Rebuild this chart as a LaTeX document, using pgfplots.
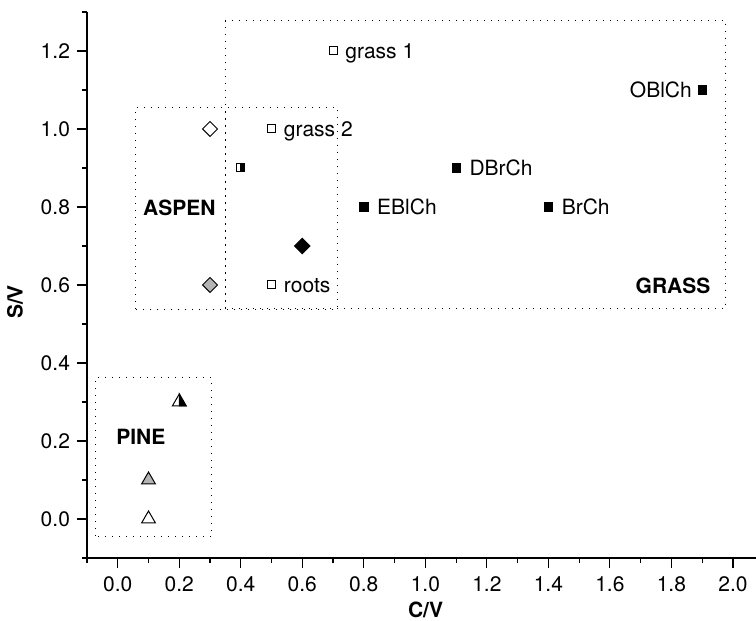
\documentclass[border=0pt]{standalone}
\usepackage{pgfplots}
\pgfplotsset{compat=1.18}
\usepackage{fontspec}
\setmainfont{TeX Gyre Heros}
\definecolor{mgray}{RGB}{180,180,180}
\pgfdeclareplotmark{halfsquare}{%
  \pgfpathrectangle{\pgfpoint{-\pgfplotmarksize}{-\pgfplotmarksize}}{\pgfpoint{2\pgfplotmarksize}{2\pgfplotmarksize}}%
  \pgfusepathqstroke
  \pgfpathrectangle{\pgfpoint{0pt}{-\pgfplotmarksize}}{\pgfpoint{\pgfplotmarksize}{2\pgfplotmarksize}}%
  \pgfusepathqfillstroke
}
\pgfdeclareplotmark{halftriangle}{%
  \pgfpathmoveto{\pgfqpointpolar{90}{\pgfplotmarksize}}%
  \pgfpathlineto{\pgfqpointpolar{-30}{\pgfplotmarksize}}%
  \pgfpathlineto{\pgfqpointpolar{210}{\pgfplotmarksize}}%
  \pgfpathclose
  \pgfusepathqstroke
  \pgfpathmoveto{\pgfqpointpolar{90}{\pgfplotmarksize}}%
  \pgfpathlineto{\pgfqpointpolar{-30}{\pgfplotmarksize}}%
  \pgfpathlineto{\pgfpoint{0pt}{-0.5\pgfplotmarksize}}%
  \pgfpathclose
  \pgfusepathqfillstroke
}
\tikzset{box/.style={line width=0.5pt, dash pattern=on 0.5pt off 3pt},
  lab/.style={font=\fontsize{10.5}{12.6}\selectfont, inner sep=0pt},
  glab/.style={font=\fontsize{10.5}{12.6}\selectfont\bfseries, inner sep=0pt}}
\begin{document}
\begin{tikzpicture}
\begin{axis}[name=ax, scale only axis, width=334.5pt, height=273pt,
  xmin=-0.1, xmax=2.075, ymin=-0.1, ymax=1.3,
  axis lines*=left, axis line style={line width=0.6pt},
  tick align=outside, tick style={black, line width=0.6pt},
  major tick length=5pt, minor tick length=2.5pt,
  xtick={0,0.2,0.4,0.6,0.8,1.0,1.2,1.4,1.6,1.8,2.0},
  ytick={0,0.2,0.4,0.6,0.8,1.0,1.2},
  minor xtick={-0.1,0.1,0.3,0.5,0.7,0.9,1.1,1.3,1.5,1.7,1.9},
  minor ytick={-0.1,0.1,0.3,0.5,0.7,0.9,1.1,1.3},
  ticklabel style={font=\fontsize{10.5}{12.6}\selectfont},
  xticklabel style={yshift=-1pt},
  /pgf/number format/.cd, fixed, fixed zerofill, precision=1, assume math mode=true,
  /pgfplots/.cd,
  xlabel={C/V}, ylabel={S/V},
  xlabel style={font=\fontsize{10.5}{12.6}\selectfont\bfseries, at={(axis description cs:0.506,-0.0989)}, anchor=center, yshift=1pt},
  ylabel style={font=\fontsize{10.5}{12.6}\selectfont\bfseries, at={(axis description cs:-0.1076,0.469)}, anchor=center},
  clip=false]
% boxes
\draw[box] (axis cs:0.35,0.541) rectangle (axis cs:1.977,1.278);
\draw[box] (axis cs:0.059,0.538) rectangle (axis cs:0.713,1.056);
\draw[box] (axis cs:0.35,0.538) -- (axis cs:0.35,1.056);
\draw[box] (axis cs:-0.072,-0.044) rectangle (axis cs:0.306,0.362);
% open squares
\addplot[only marks, mark=square, mark size=2pt, mark options={black, line width=0.5pt}] coordinates {(0.7,1.2) (0.5,1.0) (0.5,0.6)};
% filled squares
\addplot[only marks, mark=square*, mark size=2.1pt, mark options={black, fill=black}] coordinates {(0.8,0.8) (1.1,0.9) (1.4,0.8) (1.9,1.1)};
% half square
\addplot[only marks, mark=halfsquare, mark size=2pt, mark options={black, fill=black, line width=0.5pt}] coordinates {(0.4,0.9)};
% diamonds
\addplot[only marks, mark=square, mark size=2.65pt, mark options={rotate=45, black, fill=white, line width=0.5pt}] coordinates {(0.3,1.0)};
\addplot[only marks, mark=square*, mark size=2.65pt, mark options={rotate=45, black, fill=mgray, line width=0.5pt}] coordinates {(0.3,0.6)};
\addplot[only marks, mark=square*, mark size=2.7pt, mark options={rotate=45, black, fill=black, line width=0.5pt}] coordinates {(0.6,0.7)};
% triangles
\addplot[only marks, mark=triangle, mark size=4pt, mark options={black, line width=0.5pt}] coordinates {(0.1,0.0)};
\addplot[only marks, mark=triangle*, mark size=4pt, mark options={black, fill=mgray, line width=0.5pt}] coordinates {(0.1,0.1)};
\addplot[only marks, mark=halftriangle, mark size=4pt, mark options={black, fill=black, line width=0.5pt}] coordinates {(0.2,0.3)};
% labels
\node[lab, anchor=base west, xshift=6pt, yshift=-3.8pt] at (axis cs:0.7,1.2) {grass 1};
\node[lab, anchor=base west, xshift=6pt, yshift=-3.8pt] at (axis cs:0.5,1.0) {grass 2};
\node[lab, anchor=base west, xshift=6pt, yshift=-3.8pt] at (axis cs:0.5,0.6) {roots};
\node[lab, anchor=base west, xshift=6.5pt, yshift=-3.8pt] at (axis cs:0.8,0.8) {EBlCh};
\node[lab, anchor=base west, xshift=6.5pt, yshift=-3.8pt] at (axis cs:1.1,0.9) {DBrCh};
\node[lab, anchor=base west, xshift=6.5pt, yshift=-3.8pt] at (axis cs:1.4,0.8) {BrCh};
\node[lab, anchor=base east, xshift=-5pt, yshift=-3.8pt] at (axis cs:1.9,1.1) {OBlCh};
\node[glab, anchor=base] at (axis cs:0.2,0.777) {ASPEN};
\node[glab, anchor=base] at (axis cs:0.075,0.192) {PINE};
\node[glab, anchor=base east] at (axis cs:1.928,0.579) {GRASS};
\end{axis}
\pgfresetboundingbox
\path[use as bounding box] ([shift={(-43.5pt,-31.5pt)}]ax.south west) rectangle ([shift={(0pt,6pt)}]ax.north east);
\end{tikzpicture}
\end{document}
